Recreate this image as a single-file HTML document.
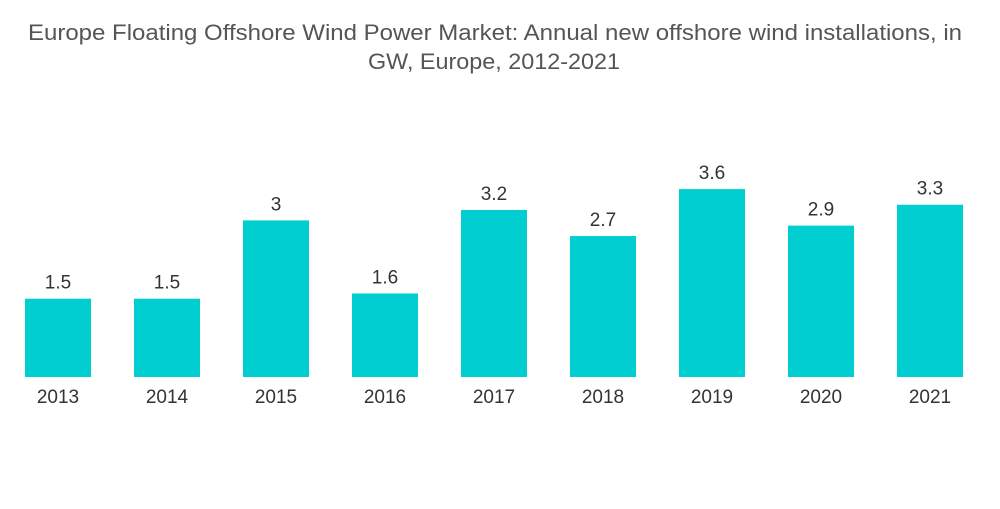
<!DOCTYPE html>
<html><head><meta charset="utf-8"><style>
body{margin:0;background:#fff;}
svg text{font-family:"Liberation Sans",sans-serif;}
</style></head><body>
<svg width="1000" height="504" viewBox="0 0 1000 504">
<text x="495" y="40" text-anchor="middle" font-size="22" fill="#555" textLength="934" lengthAdjust="spacingAndGlyphs">Europe Floating Offshore Wind Power Market: Annual new offshore wind installations, in</text>
<text x="494" y="69" text-anchor="middle" font-size="22" fill="#555" textLength="252" lengthAdjust="spacingAndGlyphs">GW, Europe, 2012-2021</text>
<g id="bars"></g>
</svg>
<script>
const categories=["2013","2014","2015","2016","2017","2018","2019","2020","2021"];
const values=[1.5,1.5,3,1.6,3.2,2.7,3.6,2.9,3.3];
const valueLabels=["1.5","1.5","3","1.6","3.2","2.7","3.6","2.9","3.3"];
const baseY=377, perUnit=52.2, firstX=25, step=109, barW=66;
const xScale=i=>firstX+i*step;
const yScale=v=>baseY-v*perUnit;
const g=document.getElementById('bars');
const ns="http://www.w3.org/2000/svg";
categories.forEach((c,i)=>{
  const r=document.createElementNS(ns,'rect');
  r.setAttribute('x',xScale(i));r.setAttribute('y',yScale(values[i]));
  r.setAttribute('width',barW);r.setAttribute('height',baseY-yScale(values[i]));
  r.setAttribute('fill','#00CED1');
  
  
  g.appendChild(r);
  const t=document.createElementNS(ns,'text');
  t.setAttribute('x',xScale(i)+barW/2);t.setAttribute('y',yScale(values[i])-10);
  t.setAttribute('text-anchor','middle');t.setAttribute('font-size','19');t.setAttribute('fill','#333');
  t.textContent=valueLabels[i];
  
  
  g.appendChild(t);
  const l=document.createElementNS(ns,'text');
  l.setAttribute('x',xScale(i)+barW/2);l.setAttribute('y',403);
  l.setAttribute('text-anchor','middle');l.setAttribute('font-size','19');l.setAttribute('fill','#333');
  l.textContent=c;
  
  
  g.appendChild(l);
});
</script>
</body></html>
